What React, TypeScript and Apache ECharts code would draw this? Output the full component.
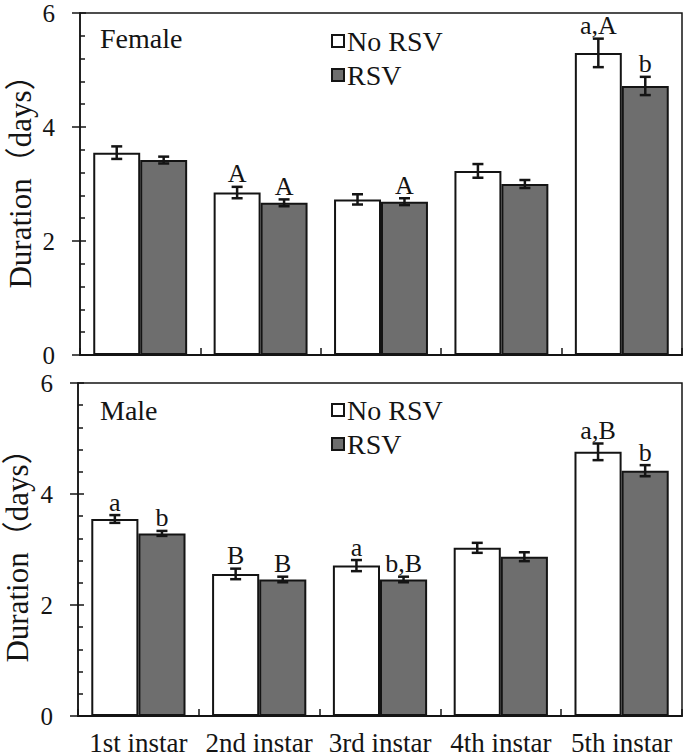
import React, { useEffect, useRef } from "react";
import * as echarts from "echarts";

const categories = ["1st instar", "2nd instar", "3rd instar", "4th instar", "5th instar"];
const seriesNames = ["No RSV", "RSV"];

const femaleNoRSV = [3.55, 2.85, 2.73, 3.23, 5.3];
const femaleNoRSVErr = [0.11, 0.1, 0.09, 0.12, 0.25];
const femaleRSV = [3.42, 2.67, 2.69, 3.0, 4.72];
const femaleRSVErr = [0.06, 0.06, 0.06, 0.07, 0.16];
const femaleNoRSVLetters = ["", "A", "", "", "a,A"];
const femaleRSVLetters = ["", "A", "A", "", "b"];

const maleNoRSV = [3.55, 2.56, 2.71, 3.03, 4.76];
const maleNoRSVErr = [0.07, 0.095, 0.1, 0.09, 0.15];
const maleRSV = [3.29, 2.46, 2.46, 2.87, 4.42];
const maleRSVErr = [0.045, 0.05, 0.05, 0.08, 0.1];
const maleNoRSVLetters = ["a", "B", "a", "", "a,B"];
const maleRSVLetters = ["b", "B", "b,B", "", "b"];

const yMin = 0;
const yMax = 6;
const yInterval = 2;

const SERIF = '"Liberation Serif", "Times New Roman", serif';
const CJKSERIF = '"Liberation Serif", "Noto Sans CJK SC", serif';
const INK = "#141414";
const GRAY = "#6e6e6e";
const CAT_GAP = 0.22;

function barSeries(name: string, color: string, values: number[], gi: number) {
  return {
    type: "bar",
    name,
    xAxisIndex: gi,
    yAxisIndex: gi * 2,
    data: values,
    barGap: "0%",
    barCategoryGap: CAT_GAP * 100 + "%",
    itemStyle: { color, borderColor: INK, borderWidth: 2 },
    z: 2,
  };
}

function errSeries(values: number[], errs: number[], letters: string[], gi: number, side: number) {
  return {
    type: "custom",
    xAxisIndex: gi,
    yAxisIndex: gi * 2,
    z: 10,
    data: values.map((v, i) => [i, v, errs[i]]),
    renderItem: (params: any, api: any) => {
      const i = api.value(0);
      const v = api.value(1);
      const e = api.value(2);
      const band = api.size([1, 0])[0];
      const bw = (band * (1 - CAT_GAP)) / 2;
      const c = api.coord([i, v]);
      const cx = c[0] + (side * bw) / 2;
      const top = api.coord([i, v + e])[1];
      const bot = api.coord([i, v - e])[1];
      const cap = 5.5;
      const st = { stroke: INK, lineWidth: 2.5 };
      const children: any[] = [
        { type: "line", shape: { x1: cx, y1: top, x2: cx, y2: bot }, style: st },
        { type: "line", shape: { x1: cx - cap, y1: top, x2: cx + cap, y2: top }, style: st },
        { type: "line", shape: { x1: cx - cap, y1: bot, x2: cx + cap, y2: bot }, style: st },
      ];
      const t = letters[params.dataIndex];
      if (t) {
        children.push({
          type: "text",
          style: {
            text: t,
            x: cx,
            y: top - 13,
            align: "center",
            verticalAlign: "middle",
            font: "26px " + SERIF,
            fill: INK,
          },
        });
      }
      return { type: "group", children };
    },
  };
}

function yAxes(gi: number) {
  return [
    {
      type: "value",
      gridIndex: gi,
      position: "left",
      min: yMin,
      max: yMax,
      interval: yInterval,
      axisLine: { show: true, lineStyle: { color: INK, width: 1.5 } },
      axisTick: { show: true, inside: false, length: 8, lineStyle: { color: INK, width: 1.5 } },
      axisLabel: { show: true, margin: 25, color: INK, fontFamily: SERIF, fontSize: 25 },
      splitLine: { show: false },
    },
    {
      type: "value",
      gridIndex: gi,
      position: "left",
      min: yMin,
      max: yMax,
      interval: yInterval,
      axisLine: { show: false },
      axisTick: { show: true, inside: true, length: 6, lineStyle: { color: INK, width: 1.5 } },
      minorTick: { show: true, splitNumber: 5, length: 5, lineStyle: { color: INK, width: 1.5 } },
      axisLabel: { show: false },
      splitLine: { show: false },
    },
  ];
}

function xAxis(gi: number, showLabels: boolean) {
  return {
    type: "category",
    gridIndex: gi,
    data: categories,
    axisLine: { show: true, lineStyle: { color: INK, width: 2 } },
    axisTick: { show: true, inside: true, length: 7, lineStyle: { color: INK, width: 1.5 } },
    axisLabel: {
      show: showLabels,
      margin: 13,
      color: INK,
      fontFamily: SERIF,
      fontSize: 27,
      interval: 0,
    },
    splitLine: { show: false },
  };
}

function legend(top: number) {
  return {
    left: 326,
    top,
    orient: "vertical",
    itemWidth: 12,
    itemHeight: 12,
    itemGap: 6,
    selectedMode: false,
    icon: "rect",
    itemStyle: { borderColor: INK, borderWidth: 2 },
    textStyle: { fontFamily: SERIF, fontSize: 28, color: INK, padding: [0, 0, 0, -2] },
    data: seriesNames,
  };
}

export default function App() {
  const ref = useRef<HTMLDivElement>(null);
  useEffect(() => {
    if (!ref.current) return;
    const chart = echarts.init(ref.current, undefined, { renderer: "svg" });
    const option: any = {
      animation: false,
      backgroundColor: "#ffffff",
      grid: [
        { left: 80, top: 13, width: 602, height: 342, show: true, borderColor: INK, borderWidth: 1.5, backgroundColor: "transparent" },
        { left: 78, top: 383, width: 604, height: 334, show: true, borderColor: INK, borderWidth: 1.5, backgroundColor: "transparent" },
      ],
      xAxis: [xAxis(0, false), xAxis(1, true)],
      yAxis: [...yAxes(0), ...yAxes(1)],
      legend: [legend(22), legend(391)],
      series: [
        barSeries(seriesNames[0], "#ffffff", femaleNoRSV, 0),
        barSeries(seriesNames[1], GRAY, femaleRSV, 0),
        barSeries(seriesNames[0], "#ffffff", maleNoRSV, 1),
        barSeries(seriesNames[1], GRAY, maleRSV, 1),
        errSeries(femaleNoRSV, femaleNoRSVErr, femaleNoRSVLetters, 0, -1),
        errSeries(femaleRSV, femaleRSVErr, femaleRSVLetters, 0, 1),
        errSeries(maleNoRSV, maleNoRSVErr, maleNoRSVLetters, 1, -1),
        errSeries(maleRSV, maleRSVErr, maleRSVLetters, 1, 1),
      ],
      graphic: [
        { type: "text", x: 100, y: 38, style: { text: "Female", font: "28px " + SERIF, fill: INK, verticalAlign: "middle" } },
        { type: "text", x: 100, y: 410, style: { text: "Male", font: "28px " + SERIF, fill: INK, verticalAlign: "middle" } },
        {
          type: "text",
          x: 20,
          y: 174,
          rotation: Math.PI / 2,
          style: { text: "Duration（days）", font: "31px " + CJKSERIF, fill: INK, align: "center", verticalAlign: "middle" },
        },
        {
          type: "text",
          x: 17,
          y: 548,
          rotation: Math.PI / 2,
          style: { text: "Duration（days）", font: "31px " + CJKSERIF, fill: INK, align: "center", verticalAlign: "middle" },
        },
      ],
    };
    chart.setOption(option);
    return () => chart.dispose();
  }, []);
  return (
    <div
      ref={ref}
      style={{ position: "fixed", left: 0, top: 0, width: 685, height: 756, background: "#fff" }}
    />
  );
}
